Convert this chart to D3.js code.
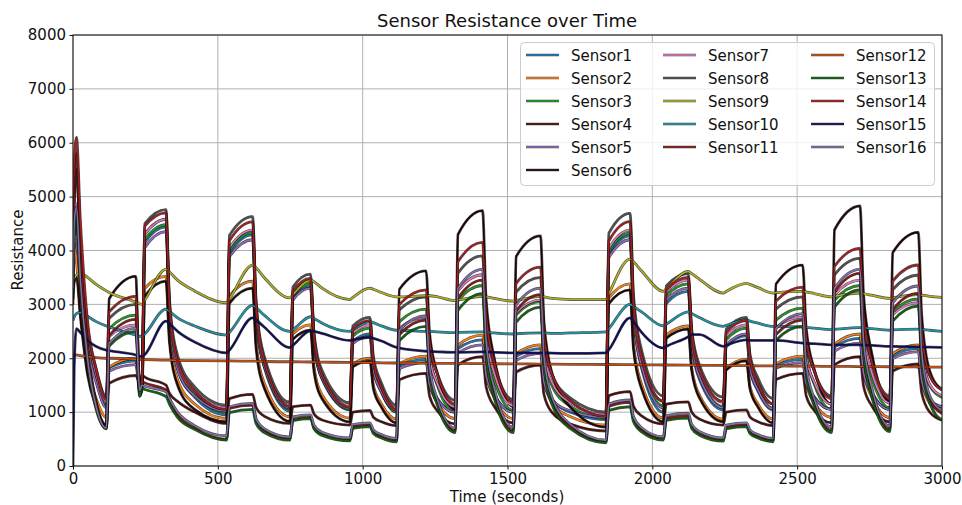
<!DOCTYPE html>
<html><head><meta charset="utf-8">
<script src="https://cdn.jsdelivr.net/npm/d3@7"></script>
<style>body{margin:0;background:#fff;} svg{display:block;font-family:"DejaVu Sans",sans-serif;}</style>
</head><body><svg id="chart" width="962" height="505"></svg>
<script>
const times = [0,4,12,25,50,80,
 115,125,217,230,
 238,248,321,333,361,420,
 530,540,620,632,660,
 749,759,820,832,860,
 956,966,1025,1037,1065,
 1117,1127,1219,1231,1259,
 1319,1329,1414,1426,1454,
 1520,1530,1614,1626,1654,1720,
 1840,1850,1923,1935,1963,
 2038,2048,2124,2136,2164,
 2245,2255,2325,2337,2365,
 2417,2427,2519,2531,2559,
 2619,2629,2717,2729,2757,
 2820,2830,2918,2930,2958,3000];

const sensor1 = [3800,4300,4400,3500,2300,1600, 1100,1822,1950,1450, 1500,4150,4440,2850,1800,1280, 950,3950,4290,2820,1840, 1020,3100,3330,2300,1610, 1040,2310,2450,1798,1363, 1000,1860,1980,1539,1245, 1000,2179,2340,1737,1335, 1000,2038,2180,1586,1230,992, 860,3929,4270,2799,1818, 1000,3016,3240,2250,1590, 1040,2213,2420,1799,1385, 1040,1867,1980,1562,1283, 1050,2212,2370,1776,1380, 1050,2048,2184,1606,1221,1093];
const sensor2 = [4000,4100,3800,2900,1800,1250, 900,1835,2000,1450, 1500,3300,3520,2400,1600,1150, 880,3150,3430,2300,1540, 910,2450,2620,1840,1320, 890,1890,2000,1492,1153, 870,1900,2040,1518,1170, 880,2244,2430,1733,1268, 880,2086,2250,1580,1177,909, 760,3118,3380,2260,1513, 890,2429,2600,1822,1303, 870,1814,1980,1481,1148, 870,1900,2040,1527,1185, 900,2264,2450,1753,1288, 900,2084,2246,1595,1162,1017];
const sensor3 = [4300,4700,4600,3800,2400,1600, 1150,2552,2800,1400, 1450,4200,4480,2900,1850,1330, 1000,3990,4330,2860,1880, 1060,3150,3380,2330,1630, 1050,2410,2560,1858,1390, 1000,2680,2910,2050,1478, 1000,3068,3350,2306,1610, 1030,2808,3050,2074,1488,1097, 880,3976,4320,2880,1920, 1120,3154,3380,2354,1670, 1100,2341,2560,1890,1443, 1070,2707,2930,2084,1520, 1050,3074,3350,2329,1648, 1080,2858,3100,2133,1488,1273];
const sensor4 = [3000,4800,5500,4000,2200,1200, 720,1536,1680,1560, 1690,1650,1500,1350,1200,1000, 790,1250,1330,1090,925, 790,1100,1130,965,853, 760,1000,1030,904,820, 750,1600,1720,1297,1015, 780,1880,2030,1477,1108, 800,1746,1875,1324,993,773, 650,1307,1380,1110,930, 780,1149,1190,997,868, 760,998,1040,910,823, 750,1604,1720,1306,1030, 800,1882,2030,1486,1123, 820,1764,1893,1356,998,850];
const sensor5 = [3600,4100,4200,3400,2200,1550, 1080,1760,1880,1400, 1450,4050,4350,2800,1800,1300, 1020,3880,4200,2800,1860, 1080,3080,3300,2300,1630, 1070,2270,2400,1784,1373, 1030,1810,1920,1506,1230, 1000,2100,2250,1688,1313, 1000,1959,2090,1555,1233,1019, 900,3870,4200,2796,1860, 1080,3078,3300,2301,1635, 1080,2245,2450,1825,1408, 1060,1817,1920,1529,1268, 1050,2132,2280,1727,1358, 1050,1993,2122,1581,1221,1100];
const sensor6 = [3100,3400,3500,2800,1700,1100, 760,3106,3520,1300, 1400,3150,3430,2300,1500,1050, 820,3020,3300,2190,1450, 830,2350,2520,1755,1245, 820,1840,1950,1433,1088, 800,3280,3620,2464,1693, 1050,4297,4740,3102,2010, 1100,3890,4270,2673,1714,1075, 720,3015,3270,2168,1433, 820,2368,2540,1766,1250, 820,1781,1950,1433,1088, 800,3378,3730,2569,1795, 1150,4385,4826,3194,2107, 1200,3961,4337,2790,1759,1416];
const sensor7 = [4400,4900,4800,3900,2500,1700, 1200,2407,2620,1450, 1500,4300,4580,2950,1900,1380, 1080,4050,4380,2910,1935, 1120,3200,3430,2390,1690, 1110,2470,2620,1923,1458, 1070,2560,2760,2013,1515, 1100,3256,3550,2457,1728, 1120,2845,3080,2122,1546,1163, 950,4037,4380,2949,1995, 1200,3225,3450,2429,1748, 1180,2404,2620,1959,1518, 1150,2571,2765,2038,1554, 1150,3174,3450,2424,1740, 1170,2808,3031,2117,1508,1305];
const sensor8 = [4500,5300,5500,4200,2600,1800, 1280,2742,3000,1550, 1600,4500,4760,3100,2050,1470, 1130,4280,4630,3080,2040, 1180,3320,3560,2480,1770, 1170,2600,2760,2027,1538, 1130,2900,3140,2276,1700, 1220,3578,3900,2699,1898, 1230,3228,3500,2375,1700,1250, 1000,4321,4690,3165,2148, 1300,3343,3570,2540,1853, 1280,2538,2760,2081,1628, 1250,2913,3140,2312,1760, 1300,3548,3855,2705,1939, 1300,3276,3545,2422,1674,1424];
const sensor9 = [3450,3480,3540,3580,3500,3370, 3250,3220,3040,3010, 3000,3080,3650,3600,3450,3250, 3030,3100,3730,3680,3500, 3120,3180,3450,3420,3300, 3090,3130,3300,3280,3220, 3140,3140,3160,3160,3140, 3070,3080,3150,3140,3110, 3060,3070,3150,3140,3110,3090, 3090,3200,3840,3790,3620, 3240,3290,3610,3570,3460, 3210,3240,3390,3370,3310, 3210,3220,3240,3230,3200, 3140,3150,3210,3200,3170, 3110,3120,3180,3170,3150,3130];
const sensor10 = [2700,2760,2830,2850,2780,2680, 2600,2580,2430,2410, 2400,2450,2910,2870,2750,2600, 2430,2480,2980,2940,2800, 2500,2530,2770,2740,2650, 2500,2530,2680,2660,2600, 2520,2520,2500,2500,2490, 2475,2480,2490,2485,2470, 2450,2455,2470,2470,2460,2470, 2490,2550,3000,2960,2860, 2600,2630,2860,2830,2750, 2590,2610,2710,2690,2650, 2590,2590,2580,2575,2560, 2530,2535,2570,2565,2550, 2520,2525,2540,2535,2520,2500];
const sensor11 = [3500,5000,5800,4200,2200,1150, 700,2417,2720,1350, 1565,1540,1410,1250,950,700, 495,1070,1130,850,658, 500,860,900,711,585, 480,730,760,630,543, 470,2440,2710,1783,1165, 650,3114,3450,2195,1358, 660,2878,3180,1952,1214,723, 450,1107,1180,874,670, 500,887,930,728,593, 480,718,760,630,543, 470,2441,2710,1788,1173, 660,3226,3576,2273,1404, 680,2902,3205,2024,1236,974];
const sensor12 = [2050,2060,2060,2050,2030,2010, 2000,2000,1980,1975, 1975,1975,1965,1965,1960,1955, 1950,1950,1945,1945,1940, 1935,1935,1930,1930,1928, 1922,1920,1918,1918,1915, 1912,1912,1908,1908,1906, 1904,1904,1900,1900,1898, 1896,1896,1892,1892,1890,1888, 1884,1884,1880,1880,1878, 1875,1875,1872,1872,1870, 1866,1866,1862,1862,1860, 1858,1858,1854,1854,1852, 1850,1850,1846,1846,1845, 1842,1842,1838,1838,1836,1835];
const sensor13 = [3200,4200,4600,3400,1900,1050, 690,2228,2500,1290, 1440,1420,1290,1150,900,680, 480,990,1050,790,623, 480,840,880,693,569, 465,700,730,604,520, 450,2330,2590,1704,1113, 620,2890,3200,2039,1265, 620,2670,2950,1816,1136,682, 430,1033,1100,821,635, 480,849,890,697,568, 460,690,730,604,520, 450,2333,2590,1704,1113, 620,2949,3267,2085,1297, 640,2690,2970,1886,1163,850];
const sensor14 = [5000,5600,6100,4600,2700,1800, 1230,2862,3150,1500, 1550,4450,4700,3000,1950,1400, 1050,4180,4530,2990,1960, 1100,3240,3480,2400,1690, 1090,2540,2700,1953,1455, 1040,3000,3270,2316,1680, 1150,3790,4150,2814,1923, 1180,3389,3690,2444,1696,1197, 920,4174,4535,3034,2034, 1200,3270,3500,2465,1775, 1200,2475,2700,2003,1538, 1150,3060,3320,2389,1768, 1250,3705,4040,2785,1948, 1250,3433,3731,2502,1683,1410];
const sensor15 = [0,1800,2550,2480,2330,2220, 2150,2140,2060,2040, 2030,2070,2690,2640,2500,2300, 2100,2150,2750,2710,2580, 2200,2240,2510,2500,2460, 2330,2340,2390,2370,2320, 2200,2190,2130,2125,2120, 2110,2110,2120,2120,2110, 2100,2100,2100,2100,2095,2090, 2100,2160,2750,2680,2480, 2190,2220,2400,2440,2440, 2220,2240,2340,2330,2330, 2330,2330,2280,2275,2270, 2250,2250,2250,2245,2240, 2220,2220,2210,2210,2205,2200];
const sensor16 = [3300,4500,4800,3500,2000,1100, 700,2281,2560,1400, 1500,1480,1380,1250,1000,750, 560,1100,1160,880,695, 540,910,950,757,628, 520,770,800,670,583, 510,2520,2790,1850,1223, 700,3296,3650,2332,1453, 720,2990,3300,2031,1270,762, 480,1150,1225,917,711, 540,936,980,773,635, 520,758,800,670,583, 510,2552,2830,1881,1248, 720,3298,3650,2341,1468, 740,3029,3341,2117,1300,1028];

const sensorNames = ["Sensor1","Sensor2","Sensor3","Sensor4","Sensor5","Sensor6","Sensor7","Sensor8",
  "Sensor9","Sensor10","Sensor11","Sensor12","Sensor13","Sensor14","Sensor15","Sensor16"];
const xTicks = [0,500,1000,1500,2000,2500,3000];
const yTicks = [0,1000,2000,3000,4000,5000,6000,7000,8000];

const series = [sensor1,sensor2,sensor3,sensor4,sensor5,sensor6,sensor7,sensor8,
  sensor9,sensor10,sensor11,sensor12,sensor13,sensor14,sensor15,sensor16];
const colors = ["#1f77b4","#ff7f0e","#1e9a1e","#4a0c0c","#9467bd","#1e0404","#e377c2","#505050",
  "#b0b020","#1898aa","#8b1515","#cc4c0c","#0a640a","#a81c1c","#0c0c5a","#8070a8"];

const svg = d3.select("#chart");
const L = 73, R = 942, T = 35, B = 466;
const x = d3.scaleLinear().domain([0,3000]).range([L,R]);
const y = d3.scaleLinear().domain([0,8000]).range([B,T]);

// grid
const grid = svg.append("g");
grid.selectAll(".gx").data(xTicks).join("line")
  .attr("x1",d=>x(d)).attr("x2",d=>x(d)).attr("y1",T).attr("y2",B)
  .attr("stroke","#b0b0b0").attr("stroke-width",1);
grid.selectAll(".gy").data(yTicks).join("line")
  .attr("y1",d=>y(d)).attr("y2",d=>y(d)).attr("x1",L).attr("x2",R)
  .attr("stroke","#b0b0b0").attr("stroke-width",1);

svg.append("clipPath").attr("id","clip").append("rect")
  .attr("x",L).attr("y",T).attr("width",R-L).attr("height",B-T);

const line = d3.line().x((d,i)=>x(times[i])).y(d=>y(d)).curve(d3.curveMonotoneX);
const lines = svg.append("g").attr("clip-path","url(#clip)");
series.forEach((s,k)=>{
  lines.append("path").attr("d",line(s)).attr("fill","none")
    .attr("stroke","#111").attr("stroke-width",2.8).attr("stroke-opacity",0.75)
    .attr("stroke-linejoin","round");
  lines.append("path").attr("d",line(s)).attr("fill","none")
    .attr("stroke",colors[k]).attr("stroke-width",1.6).attr("stroke-linejoin","round");
});

// axes
const ax = svg.append("g").attr("transform",`translate(0,${B})`)
  .call(d3.axisBottom(x).tickValues(xTicks).tickFormat(d3.format("d")).tickSize(3.5).tickPadding(3.5));
const ay = svg.append("g").attr("transform",`translate(${L},0)`)
  .call(d3.axisLeft(y).tickValues(yTicks).tickFormat(d3.format("d")).tickSize(3.5).tickPadding(3.5));
[ax,ay].forEach(g=>{
  g.select(".domain").remove();
  g.selectAll("text").attr("font-size","15px").attr("font-family","DejaVu Sans").attr("fill","#111");
  g.selectAll("line").attr("stroke","#111");
});

svg.append("rect").attr("x",L).attr("y",T).attr("width",R-L).attr("height",B-T)
  .attr("fill","none").attr("stroke","#111").attr("stroke-width",1);

// legend
const lg = svg.append("g");
lg.append("rect").attr("x",520.5).attr("y",42.5).attr("width",414).attr("height",143).attr("rx",4)
  .attr("fill","#fff").attr("fill-opacity",0.8).attr("stroke","#cccccc");
const colX = [526,663,811];
const perCol = [6,5,5];
let idx = 0;
perCol.forEach((n,c)=>{
  for(let r=0;r<n;r++){
    const k = idx++;
    const yy = 55 + r*23;
    lg.append("line").attr("x1",colX[c]).attr("x2",colX[c]+33).attr("y1",yy).attr("y2",yy)
      .attr("stroke","#111").attr("stroke-width",2.4).attr("stroke-opacity",0.75);
    lg.append("line").attr("x1",colX[c]).attr("x2",colX[c]+33).attr("y1",yy).attr("y2",yy)
      .attr("stroke",colors[k]).attr("stroke-width",1.3);
    lg.append("text").attr("x",colX[c]+45).attr("y",yy+5.5).attr("font-size","15px")
      .attr("fill","#111").text(sensorNames[k]);
  }
});

svg.append("text").attr("x",507).attr("y",27).attr("text-anchor","middle")
  .attr("font-size","18px").attr("fill","#111").text("Sensor Resistance over Time");
svg.append("text").attr("x",507).attr("y",502).attr("text-anchor","middle")
  .attr("font-size","15px").attr("fill","#111").text("Time (seconds)");
svg.append("text").attr("transform","translate(23,250) rotate(-90)").attr("text-anchor","middle")
  .attr("font-size","15px").attr("fill","#111").text("Resistance");
</script></body></html>
